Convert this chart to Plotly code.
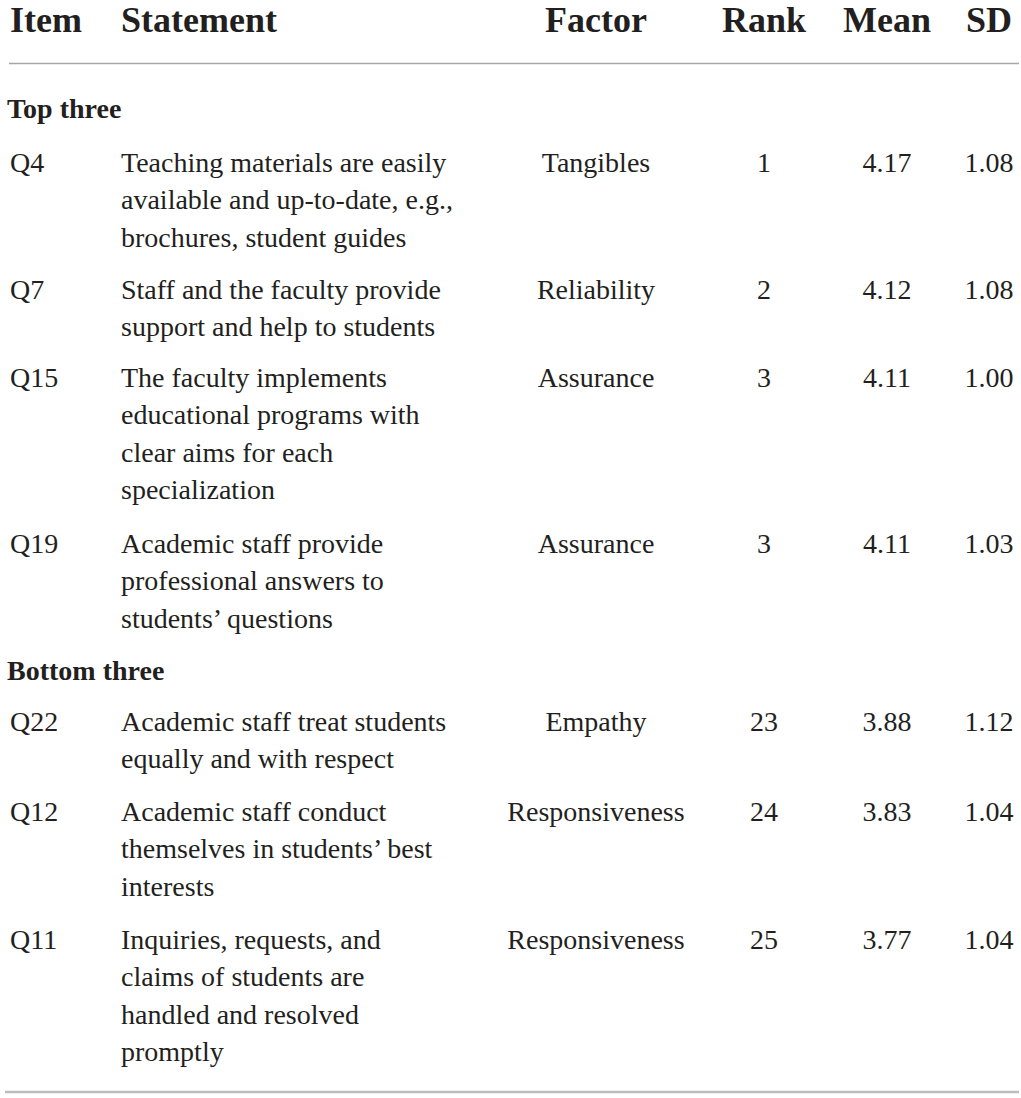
import plotly.graph_objects as go

# ---------------- data ----------------
headers = ["Item", "Statement", "Factor", "Rank", "Mean", "SD"]
sections = ["Top three", "Bottom three"]
items = ["Q4", "Q7", "Q15", "Q19", "Q22", "Q12", "Q11"]
statements = [
    ["Teaching materials are easily", "available and up-to-date, e.g.,", "brochures, student guides"],
    ["Staff and the faculty provide", "support and help to students"],
    ["The faculty implements", "educational programs with", "clear aims for each", "specialization"],
    ["Academic staff provide", "professional answers to", "students\u2019 questions"],
    ["Academic staff treat students", "equally and with respect"],
    ["Academic staff conduct", "themselves in students\u2019 best", "interests"],
    ["Inquiries, requests, and", "claims of students are", "handled and resolved", "promptly"],
]
factors = ["Tangibles", "Reliability", "Assurance", "Assurance", "Empathy",
           "Responsiveness", "Responsiveness"]
ranks = ["1", "2", "3", "3", "23", "24", "25"]
means = ["4.17", "4.12", "4.11", "4.11", "3.88", "3.83", "3.77"]
sds = ["1.08", "1.08", "1.00", "1.03", "1.12", "1.04", "1.04"]

# ---------------- layout (pixel geometry) ----------------
W, H = 1021, 1098
FONT = "Liberation Serif"
COLOR = "#231f20"
header_y = 23
section_y = [111, 673]
row_y = [165, 292, 380, 546, 724, 814, 942]
line_h = 37.3
x_item, x_stmt = 10, 121
x_factor, x_rank, x_mean, x_sd = 596, 764, 887, 989

fig = go.Figure()

def add_text(xs, ys, texts, pos, size=28, bold=False):
    fig.add_trace(go.Scatter(
        x=xs, y=ys, text=[f"<b>{t}</b>" if bold else t for t in texts],
        mode="text", textposition=pos,
        textfont=dict(family=FONT, size=size, color=COLOR),
        hoverinfo="skip", showlegend=False, cliponaxis=False))

# header
add_text([x_item, x_stmt], [header_y] * 2, headers[:2], "middle right", 36, True)
add_text([x_factor, x_rank, x_mean, x_sd], [header_y] * 4, headers[2:], "middle center", 36, True)

# section labels
add_text([x_item - 3] * 2, section_y, sections, "middle right", 28, True)

# item column
add_text([x_item] * len(items), row_y, items, "middle right")

# statements
sx, sy, st = [], [], []
for y0, lines in zip(row_y, statements):
    for k, ln in enumerate(lines):
        sx.append(x_stmt)
        sy.append(y0 + k * line_h)
        st.append(ln)
add_text(sx, sy, st, "middle right")

# centred columns
add_text([x_factor] * len(factors), row_y, factors, "middle center")
add_text([x_rank] * len(ranks), row_y, ranks, "middle center")
add_text([x_mean] * len(means), row_y, means, "middle center")
add_text([x_sd] * len(sds), row_y, sds, "middle center")

# rules
fig.add_shape(type="line", x0=9, x1=1019, y0=63.5, y1=63.5,
              line=dict(color="#a6a6a6", width=1.5), xref="x", yref="y")
fig.add_shape(type="line", x0=5, x1=1019, y0=1092, y1=1092,
              line=dict(color="#bdbdbd", width=2.5), xref="x", yref="y")

fig.update_layout(
    width=W, height=H, margin=dict(l=0, r=0, t=0, b=0),
    paper_bgcolor="white", plot_bgcolor="white",
    xaxis=dict(range=[0, W], visible=False, fixedrange=True),
    yaxis=dict(range=[H, 0], visible=False, fixedrange=True),
)

fig.write_html(
    "out.html",
    config={"displayModeBar": False},
    post_script="document.body.style.margin='0';document.body.style.overflow='hidden';",
)
